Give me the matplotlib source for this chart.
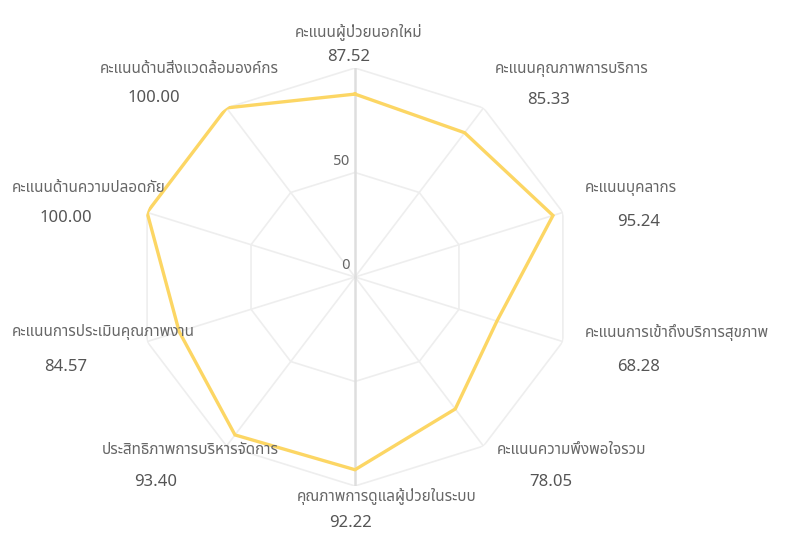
import matplotlib
matplotlib.use("Agg")
import numpy as np
import matplotlib.pyplot as plt
from matplotlib import font_manager
from matplotlib.transforms import offset_copy

# ---------------- data ----------------
categories = [
    "คะแนนผู้ป่วยนอกใหม่",
    "คะแนนคุณภาพการบริการ",
    "คะแนนบุคลากร",
    "คะแนนการเข้าถึงบริการสุขภาพ",
    "คะแนนความพึงพอใจรวม",
    "คุณภาพการดูแลผู้ป่วยในระบบ",
    "ประสิทธิภาพการบริหารจัดการ",
    "คะแนนการประเมินคุณภาพงาน",
    "คะแนนด้านความปลอดภัย",
    "คะแนนด้านสิ่งแวดล้อมองค์กร",
]
values = [87.52, 85.33, 95.24, 68.28, 78.05, 92.22, 93.40, 84.57, 100.00, 100.00]
value_labels = ["87.52", "85.33", "95.24", "68.28", "78.05", "92.22", "93.40", "84.57", "100.00", "100.00"]
radial_ticks = [0, 50]
rings = [50, 100]
r_max = 100

# ---------------- font ----------------
names = {f.name for f in font_manager.fontManager.ttflist}
thai = None
for cand in ["Noto Sans Thai", "Sarabun", "Noto Sans Thai Looped", "Prompt", "Kanit", "Bai Jamjuree", "Anuphan"]:
    if cand in names:
        thai = cand
        break
fam = [thai, "DejaVu Sans"] if thai else ["DejaVu Sans"]
plt.rcParams["font.family"] = fam

# ---------------- layout ----------------
fig = plt.figure(figsize=(8.09, 5.33), dpi=100)
ax = fig.add_axes([0.1686, 0.0882, 0.5404, 0.7842], projection="polar")
ax.set_aspect("auto")
ax.set_theta_zero_location("N")
ax.set_theta_direction(-1)
ax.set_ylim(0, r_max)
ax.grid(False)
ax.set_xticks([])
ax.set_yticks([])
ax.spines["polar"].set_visible(False)
ax.patch.set_alpha(0)

n = len(categories)
theta = np.arange(n) * 2 * np.pi / n
theta_c = np.append(theta, theta[0])

# polygon rings
for r in rings:
    ax.plot(theta_c, [r] * (n + 1), color="#eeeeee", lw=1.2, zorder=1)
# spokes
for i, t in enumerate(theta):
    if i in (0, n // 2):
        continue
    ax.plot([t, t], [0, r_max], color="#eeeeee", lw=1.2, zorder=1)
# vertical axis line
ax.plot([theta[0], theta[0]], [0, r_max], color="#dedede", lw=1.8, zorder=2)
ax.plot([theta[n // 2], theta[n // 2]], [0, r_max], color="#dedede", lw=1.8, zorder=2)

# data
vals_c = np.append(values, values[0])
ax.plot(theta_c, vals_c, color="#fcd664", lw=2.4, zorder=3, solid_joinstyle="miter")

# radial tick labels
for rt in radial_ticks:
    tr = offset_copy(ax.transData, fig=fig, x=-5, y=12, units="dots")
    ax.text(0, rt, str(rt), transform=tr, ha="right", va="center",
            fontsize=10, color="#666666", family="DejaVu Sans")

# category labels: block left offset (px), name dy, value dy (px, downward positive)
block_left = [-60, 11.5, 22, 22, 13.5, -58, -124.5, -135, -135, -126.5]
name_dy = [-36, -38, -24, -9, 4, 11, 4, -10, -24, -38]
val_dy = [-11, -8, 10, 25, 36, 37, 36, 25, 6, -10]
for i in range(n):
    trn = offset_copy(ax.transData, fig=fig, x=block_left[i], y=-name_dy[i], units="dots")
    ax.text(theta[i], r_max, categories[i], transform=trn, ha="left", va="center",
            fontsize=11, color="#666666", clip_on=False)
    trv = offset_copy(ax.transData, fig=fig, x=block_left[i] + 54, y=-val_dy[i], units="dots")
    ax.text(theta[i], r_max, value_labels[i], transform=trv, ha="center", va="center",
            fontsize=12, color="#555555", clip_on=False)

fig.savefig("out.png", dpi=100)
